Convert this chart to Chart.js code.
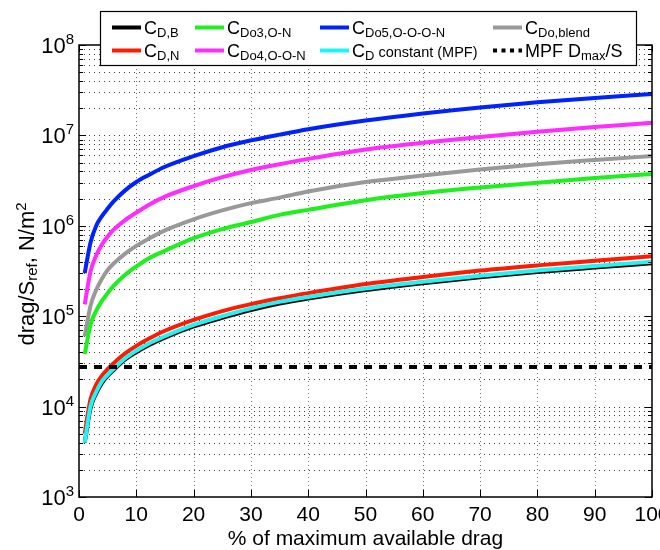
<!DOCTYPE html>
<html><head><meta charset="utf-8">
<script src="https://cdn.jsdelivr.net/npm/chart.js@4.4.1/dist/chart.umd.min.js"></script>
<style>html,body{margin:0;padding:0;background:#fff}#wrap{width:660px;height:550px;position:relative}</style>
</head><body><div id="wrap"><canvas id="c" width="660" height="550"></canvas></div>
<script>
// ---- data ----
const pct = [1,2,3,4,5,6,8,10,12,15,20,25,30,35,40,50,60,70,80,90,100];
const cdB      = [4.0e3,9.5e3,1.4e4,1.82e4,2.18e4,2.52e4,3.3e4,4.0e4,4.72e4,5.8e4,7.7e4,9.6e4,1.17e5,1.38e5,1.57e5,1.95e5,2.32e5,2.7e5,3.08e5,3.45e5,3.85e5];
const cdN      = [5.0e3,1.2e4,1.75e4,2.2e4,2.6e4,3.0e4,3.85e4,4.7e4,5.55e4,6.9e4,9.1e4,1.14e5,1.36e5,1.58e5,1.8e5,2.27e5,2.72e5,3.2e5,3.65e5,4.1e5,4.6e5];
const cdo3     = [3.8e4,8.0e4,1.15e5,1.48e5,1.8e5,2.15e5,2.85e5,3.55e5,4.3e5,5.3e5,7.3e5,9.2e5,1.1e6,1.32e6,1.5e6,1.92e6,2.3e6,2.65e6,3.0e6,3.38e6,3.74e6];
const cdo4     = [1.35e5,3.1e5,4.7e5,6.2e5,7.6e5,9.0e5,1.15e6,1.4e6,1.68e6,2.1e6,2.75e6,3.45e6,4.15e6,4.8e6,5.5e6,7.0e6,8.3e6,9.6e6,1.1e7,1.24e7,1.38e7];
const cdo5     = [3.0e5,6.5e5,1.0e6,1.28e6,1.55e6,1.85e6,2.45e6,3.05e6,3.6e6,4.5e6,5.9e6,7.4e6,8.8e6,1.02e7,1.17e7,1.46e7,1.75e7,2.04e7,2.32e7,2.6e7,2.88e7];
const cdConst  = [4.0e3,1.0e4,1.45e4,1.9e4,2.25e4,2.6e4,3.4e4,4.15e4,4.9e4,6.0e4,8.0e4,1.0e5,1.22e5,1.44e5,1.63e5,2.02e5,2.4e5,2.8e5,3.2e5,3.6e5,4.0e5];
const cdoBlend = [6.0e4,1.3e5,1.95e5,2.6e5,3.25e5,3.8e5,4.9e5,6.0e5,7.1e5,8.9e5,1.18e6,1.48e6,1.78e6,2.05e6,2.4e6,3.05e6,3.6e6,4.2e6,4.8e6,5.35e6,5.9e6];
const mpfLevel = 2.75e4;
const mpfRange = [0, 100];
const xTickValues = [0,10,20,30,40,50,60,70,80,90,100];
const yTickExponents = [3,4,5,6,7,8];
const xTitle = '% of maximum available drag';
// legend labels: [text, style] style 0=main, 1=subscript, 2=small
const legendLabels = [
  [['C',0],['D,B',1]],
  [['C',0],['D,N',1]],
  [['C',0],['Do3,O-N',1]],
  [['C',0],['Do4,O-O-N',1]],
  [['C',0],['Do5,O-O-O-N',1]],
  [['C',0],['D',1],[' constant (MPF)',2]],
  [['C',0],['Do,blend',1]],
  [['MPF D',0],['max',1],['/S',0]]
];
const yTitle = [['drag/S',0],['ref',1],[', N/m',0],['2',3]];

// ---- chart ----
const FONT = '"Liberation Sans", Arial, Helvetica, sans-serif';
const pts = arr => pct.map((x,i)=>({x:x, y:arr[i]}));
const series = [
  {d:cdB, c:'#000000', w:4, o:3},
  {d:cdN, c:'#ff1a00', w:4, o:2},
  {d:cdo3, c:'#1ef01e', w:4, o:4},
  {d:cdo4, c:'#ff2cff', w:4, o:4},
  {d:cdo5, c:'#0022ff', w:4, o:4},
  {d:cdConst, c:'#1ef5f5', w:4, o:1},
  {d:cdoBlend, c:'#999999', w:4, o:4}
];
const datasets = series.map((s,i)=>({
  data: pts(s.d), borderColor:s.c, borderWidth:s.w, pointRadius:0,
  cubicInterpolationMode:'monotone', fill:false, order:s.o
}));
datasets.push({
  data: mpfRange.map(x=>({x:x, y:mpfLevel})), borderColor:'#000', borderWidth:4,
  borderDash:[8,7], pointRadius:0, fill:false, order:0
});

function segStyle(k){
  if(k===0) return {size:18, dy:0};
  if(k===1) return {size:13, dy:3};
  if(k===2) return {size:14.5, dy:0};
  return {size:13, dy:-7};
}
function drawRich(ctx, segs, x, y, align, styleFn){
  let w=0;
  segs.forEach(s=>{const st=styleFn(s[1]); ctx.font=st.size+'px '+FONT; w+=ctx.measureText(s[0]).width;});
  let cx = align==='center'? x-w/2 : align==='right'? x-w : x;
  ctx.textAlign='left'; ctx.textBaseline='alphabetic';
  segs.forEach(s=>{const st=styleFn(s[1]); ctx.font=st.size+'px '+FONT; ctx.fillText(s[0], cx, y+st.dy); cx+=ctx.measureText(s[0]).width;});
  return w;
}

const decor = {
  id:'decor',
  beforeDatasetsDraw(chart){
    const ctx=chart.ctx, a=chart.chartArea, xs=chart.scales.x, ys=chart.scales.y;
    ctx.save();
    ctx.lineWidth=1;
    ctx.strokeStyle='rgba(0,0,0,0.75)'; ctx.setLineDash([1,4]);
    for(const e of yTickExponents){
      for(let m=1;m<=9;m++){
        const v=m*Math.pow(10,e); if(v<=ys.min||v>=ys.max) continue;
        const py=Math.round(ys.getPixelForValue(v))+0.5;
        ctx.beginPath(); ctx.moveTo(a.left,py); ctx.lineTo(a.right,py); ctx.stroke();
      }
    }
    ctx.strokeStyle='rgba(0,0,0,0.55)'; ctx.setLineDash([1,3]);
    for(const v of xTickValues){
      if(v<=xs.min||v>=xs.max) continue;
      const px=Math.round(xs.getPixelForValue(v))+0.5;
      ctx.beginPath(); ctx.moveTo(px,a.top); ctx.lineTo(px,a.bottom); ctx.stroke();
    }
    ctx.restore();
  },
  afterDatasetsDraw(chart){
    const ctx=chart.ctx, a=chart.chartArea, xs=chart.scales.x, ys=chart.scales.y;
    ctx.save();
    ctx.strokeStyle='#000'; ctx.setLineDash([]); ctx.lineWidth=1;
    for(const e of yTickExponents){
      for(let m=1;m<=9;m++){
        const v=m*Math.pow(10,e); if(v<ys.min||v>ys.max) continue;
        const py=Math.round(ys.getPixelForValue(v))+0.5, L=(m===1)?7:4;
        ctx.beginPath(); ctx.moveTo(a.left,py); ctx.lineTo(a.left+L,py);
        ctx.moveTo(a.right,py); ctx.lineTo(a.right-L,py); ctx.stroke();
      }
    }
    for(const v of xTickValues){
      const px=Math.round(xs.getPixelForValue(v))+0.5;
      ctx.beginPath(); ctx.moveTo(px,a.bottom); ctx.lineTo(px,a.bottom-7);
      ctx.moveTo(px,a.top); ctx.lineTo(px,a.top+7); ctx.stroke();
    }
    ctx.lineWidth=1.5;
    ctx.strokeRect(a.left,a.top,a.right-a.left,a.bottom-a.top);
    ctx.fillStyle='#000';
    ctx.font='21px '+FONT; ctx.textAlign='center'; ctx.textBaseline='alphabetic';
    for(const v of xTickValues){
      ctx.fillText(String(v), xs.getPixelForValue(v), a.bottom+24);
    }
    const yStyle=k=> k===0?{size:22,dy:0}:{size:15,dy:-9};
    for(const e of yTickExponents){
      const py=ys.getPixelForValue(Math.pow(10,e));
      drawRich(ctx, [['10',0],[String(e),3]], a.left-5, py+8, 'right', yStyle);
    }
    ctx.font='21px '+FONT; ctx.textAlign='center';
    ctx.fillText(xTitle, (a.left+a.right)/2, 545);
    ctx.save();
    ctx.translate(34, 274); ctx.rotate(-Math.PI/2);
    drawRich(ctx, yTitle, 0, 0, 'center', k=> k===0?{size:22,dy:0}: k===1?{size:15,dy:3}:{size:15,dy:-8});
    ctx.restore();
    const bx=100, by=11, bw=536, bh=54;
    ctx.fillStyle='#fff'; ctx.fillRect(bx,by,bw,bh);
    ctx.lineWidth=1.2; ctx.strokeStyle='#000'; ctx.strokeRect(bx+0.5,by+0.5,bw,bh);
    const colX=[112,195,320,493], rowY=[27.5,50.5];
    chart.data.datasets.forEach((ds,i)=>{
      const col=Math.floor(i/2), row=i%2, x0=colX[col], y0=rowY[row];
      ctx.save();
      ctx.strokeStyle=ds.borderColor; ctx.lineWidth=4;
      if(i===7){ ctx.setLineDash([4,4.5]); }
      ctx.beginPath(); ctx.moveTo(x0,y0); ctx.lineTo(x0+29,y0); ctx.stroke();
      ctx.restore();
      ctx.fillStyle='#000';
      drawRich(ctx, legendLabels[i], x0+32, y0+6.5, 'left', segStyle);
    });
    ctx.restore();
  }
};

new Chart(document.getElementById('c'), {
  type:'line',
  data:{datasets},
  options:{
    responsive:false, animation:false, devicePixelRatio:1,
    layout:{padding:{left:0,right:8,top:45,bottom:0}},
    plugins:{legend:{display:false}, tooltip:{enabled:false}},
    scales:{
      x:{type:'linear', min:0, max:100, grid:{display:false}, border:{display:false},
         ticks:{display:false}, afterFit:s=>{s.height=53;}},
      y:{type:'logarithmic', min:1e3, max:1e8, grid:{display:false}, border:{display:false},
         ticks:{display:false}, afterFit:s=>{s.width=79;}}
    }
  },
  plugins:[decor]
});
</script></body></html>
